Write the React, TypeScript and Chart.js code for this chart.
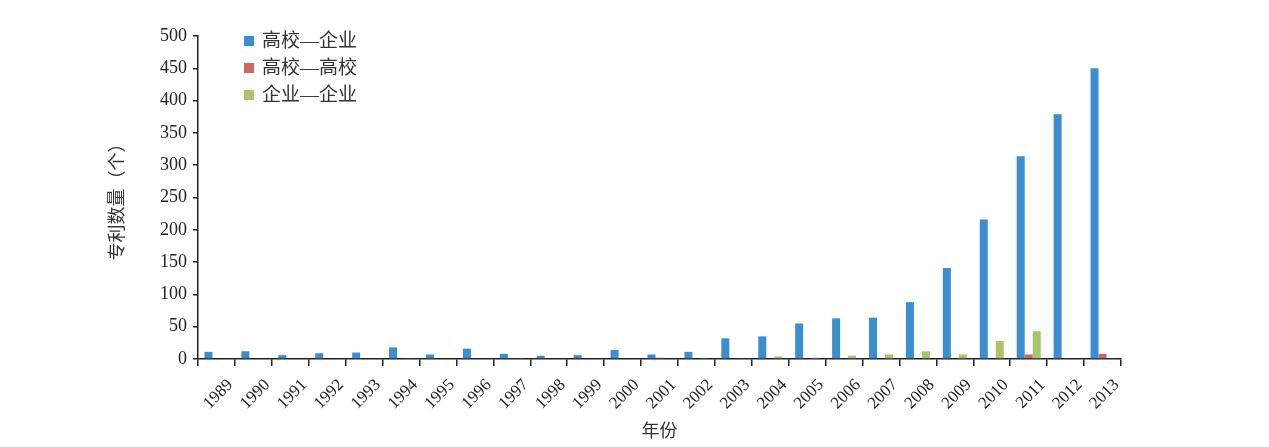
import React, { useEffect, useRef } from "react";
import { Chart, registerables } from "chart.js";

Chart.register(...registerables);

const years = [
  "1989", "1990", "1991", "1992", "1993", "1994", "1995", "1996", "1997", "1998",
  "1999", "2000", "2001", "2002", "2003", "2004", "2005", "2006", "2007", "2008",
  "2009", "2010", "2011", "2012", "2013",
];
const uniEnterprise = [11, 12, 6, 9, 10, 18, 7, 16, 8, 5, 6, 14, 7, 11, 32, 35, 55, 63, 64, 88, 141, 216, 314, 379, 450];
const uniUni = [0, 0, 0, 0, 0, 0, 0, 0, 1, 0, 0, 0, 2, 0, 0, 0, 0, 0, 0, 0, 0, 0, 7, 1, 8];
const entEnt = [0, 0, 0, 0, 0, 1, 0, 0, 1, 0, 0, 0, 0, 1, 1, 4, 2, 5, 7, 12, 7, 28, 43, 0, 1];
const seriesNames = ["高校—企业", "高校—高校", "企业—企业"];
const seriesColors = ["#3D8ED1", "#C9685D", "#A9C46D"];

const SERIF = "'Liberation Serif', 'Noto Sans CJK SC', serif";
const INK = "#231f20";

const legendPlugin = {
  id: "customLegend",
  afterDraw(chart: any) {
    const ctx = chart.ctx;
    ctx.save();
    ctx.font = `19px ${SERIF}`;
    ctx.textBaseline = "middle";
    ctx.textAlign = "left";
    chart.data.datasets.forEach((ds: any, i: number) => {
      const y = 41 + i * 27;
      ctx.fillStyle = ds.backgroundColor;
      ctx.fillRect(244, y - 5, 10, 10);
      ctx.fillStyle = "#333";
      ctx.fillText(ds.label, 262, y + 1);
    });
    ctx.restore();
  },
};

export default function App() {
  const ref = useRef<HTMLCanvasElement>(null);
  useEffect(() => {
    if (!ref.current) return;
    const data = [uniEnterprise, uniUni, entEnt];
    const chart = new Chart(ref.current, {
      type: "bar",
      data: {
        labels: years,
        datasets: data.map((d, i) => ({
          label: seriesNames[i],
          data: d,
          backgroundColor: seriesColors[i],
          categoryPercentage: 0.65,
          barPercentage: 1.0,
        })),
      },
      options: {
        animation: false,
        responsive: false,
        layout: { padding: { left: 100, right: 148, top: 36, bottom: 0 } },
        plugins: { legend: { display: false }, tooltip: { enabled: false } },
        scales: {
          x: {
            offset: true,
            grid: {
              offset: true,
              drawOnChartArea: false,
              drawTicks: true,
              tickLength: 7,
              color: INK,
              lineWidth: 1.5,
            },
            border: { display: true, color: INK, width: 1.5 },
            ticks: {
              minRotation: 45,
              maxRotation: 45,
              autoSkip: false,
              labelOffset: 14,
              padding: 9,
              color: "#222",
              font: { family: SERIF, size: 17 },
            },
            title: {
              display: true,
              text: "年份",
              color: "#333",
              font: { family: SERIF, size: 18 },
              padding: { top: 0, bottom: 4 },
            },
            afterFit(scale: any) {
              scale.height = 88;
            },
          },
          y: {
            min: 0,
            max: 500,
            ticks: {
              stepSize: 50,
              padding: 6,
              color: "#222",
              font: { family: SERIF, size: 18 },
            },
            grid: {
              drawOnChartArea: false,
              tickLength: 5,
              color: INK,
              lineWidth: 1.5,
            },
            border: { display: true, color: INK, width: 1.5 },
            title: {
              display: true,
              text: "专利数量（个）",
              color: "#333",
              font: { family: SERIF, size: 18 },
              padding: { top: 7, bottom: 0 },
            },
            afterFit(scale: any) {
              scale.width = 98;
            },
          },
        },
      },
      plugins: [legendPlugin],
    });
    return () => chart.destroy();
  }, []);
  return (
    <div style={{ position: "fixed", left: 0, top: 0, width: 1269, height: 447, background: "#fff" }}>
      <canvas ref={ref} width={1269} height={447} style={{ display: "block" }} />
    </div>
  );
}
